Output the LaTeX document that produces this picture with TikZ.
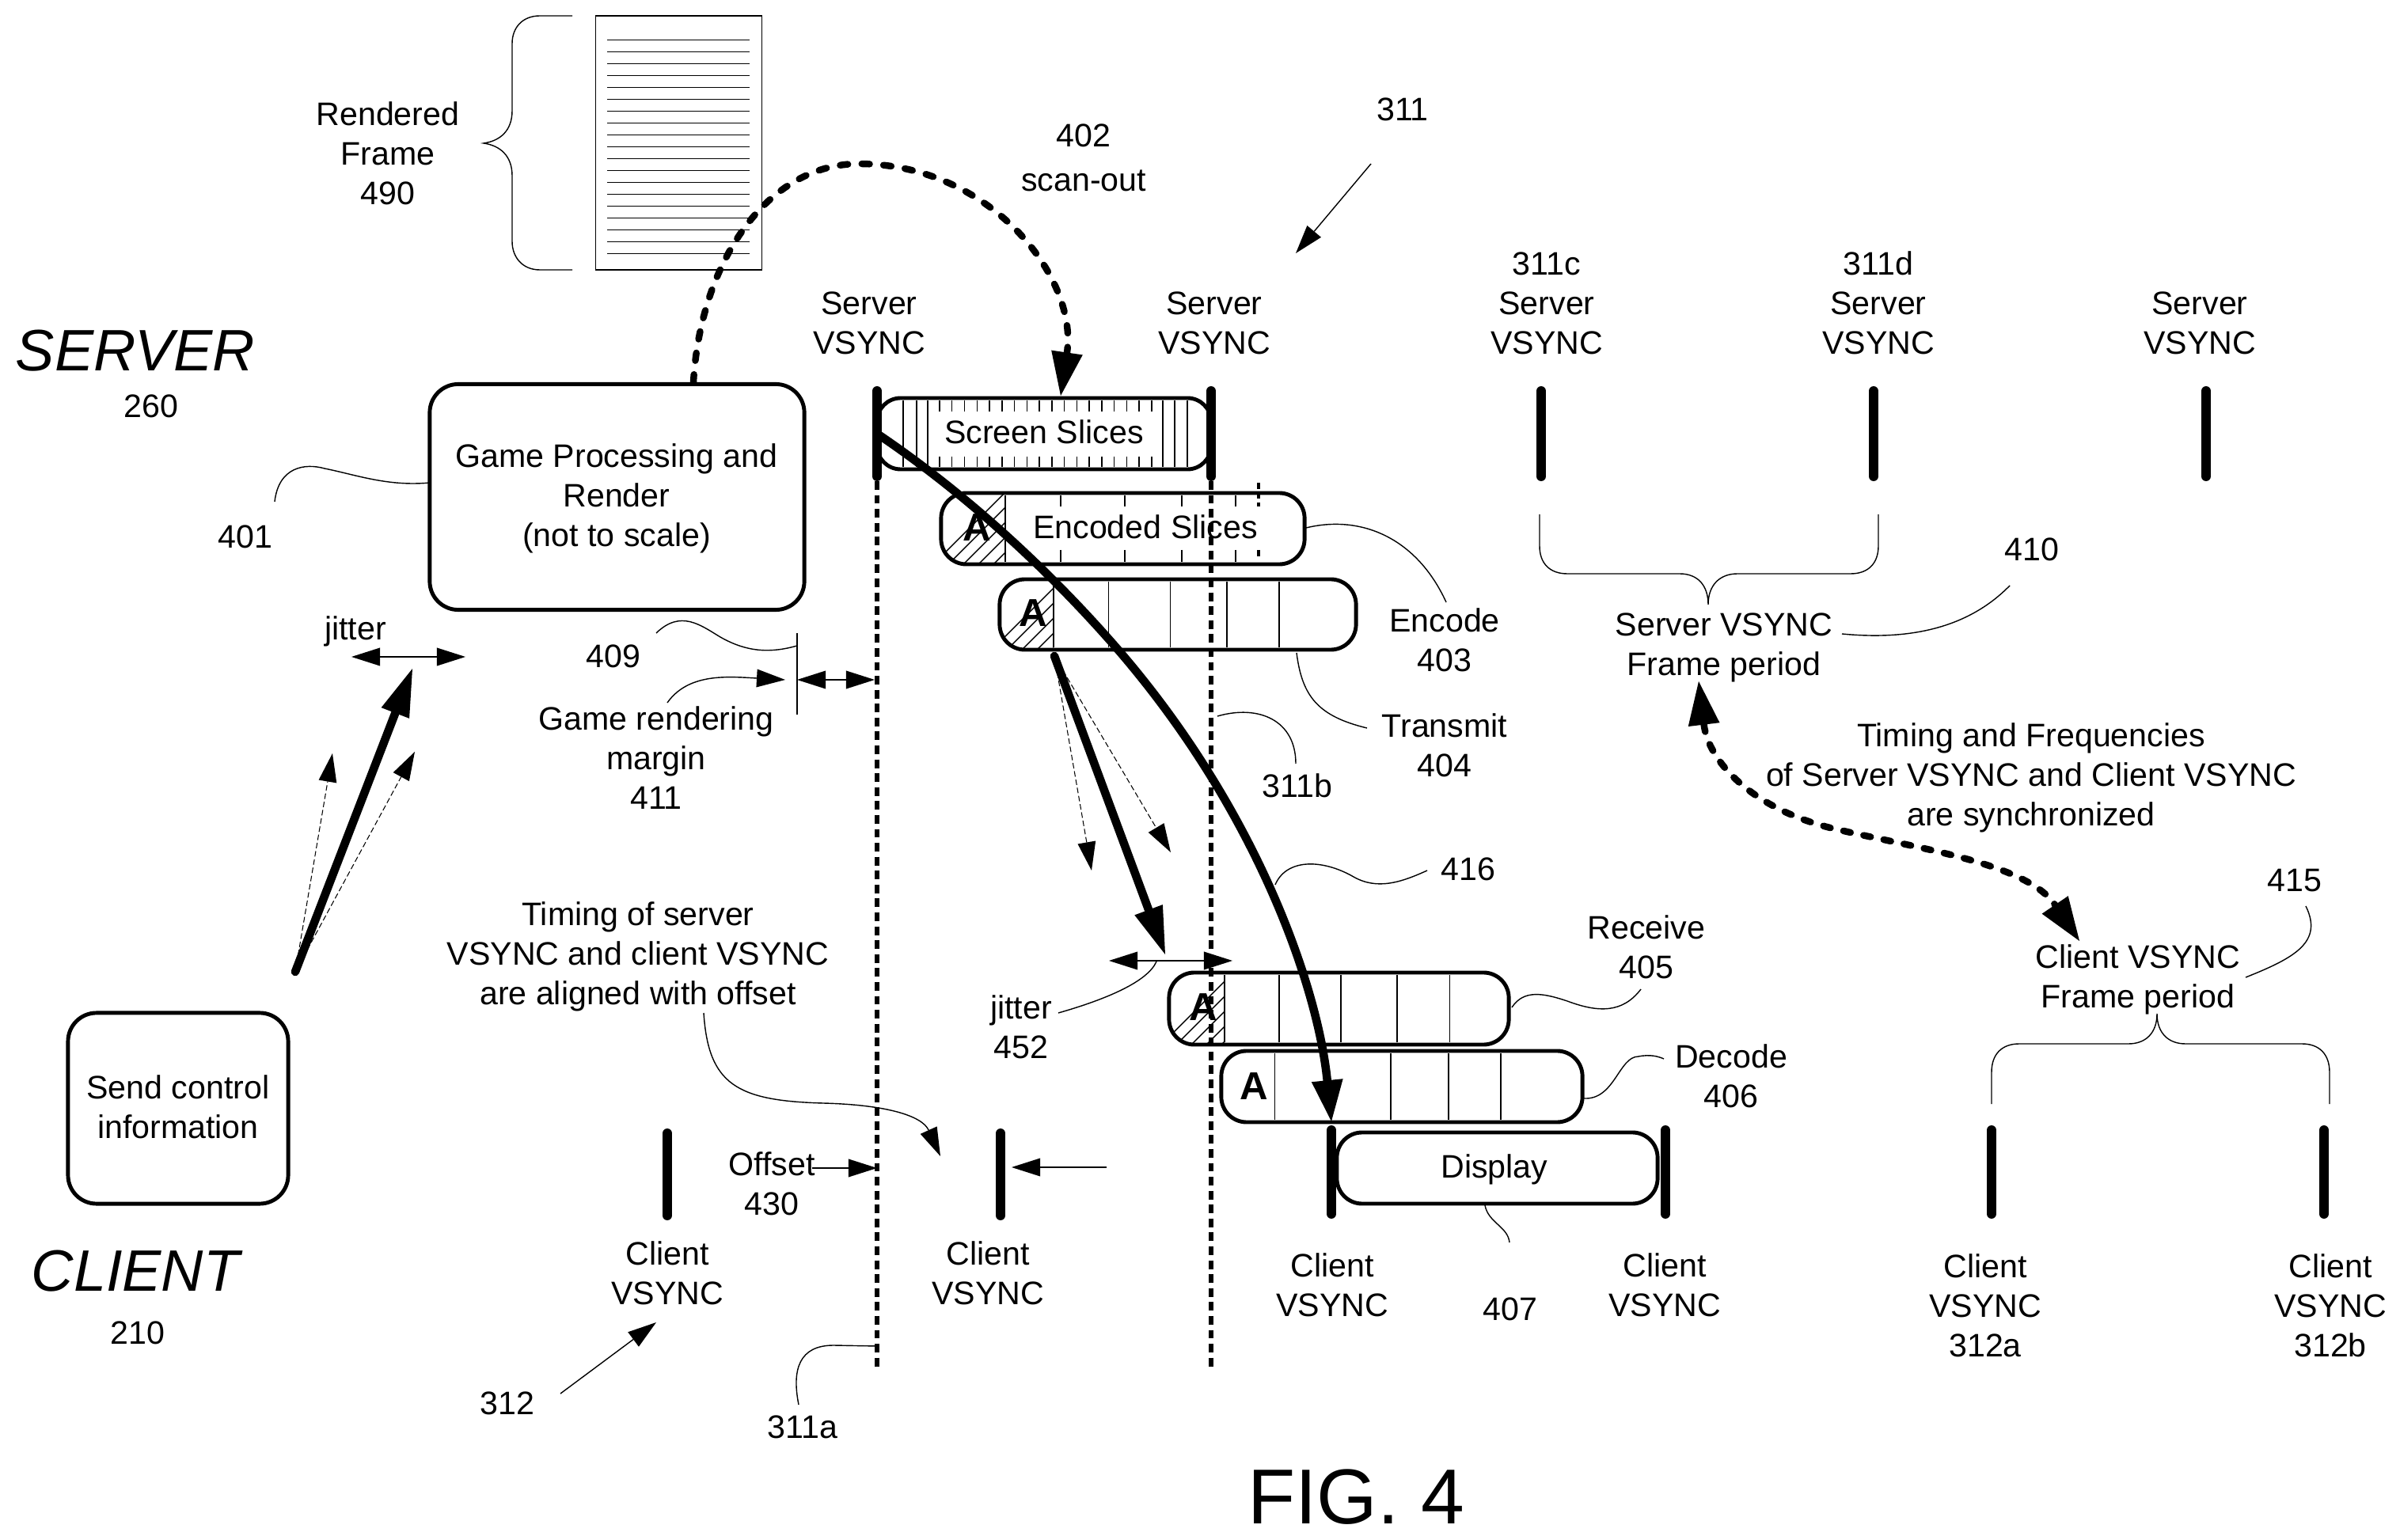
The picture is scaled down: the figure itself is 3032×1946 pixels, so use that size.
\documentclass[tikz,border=0pt]{standalone}
\usepackage{fontspec}
\usepackage{xcolor}
\usepackage{tikz}
\usetikzlibrary{arrows.meta}
\setmainfont{Liberation Sans}

\tikzset{
  lab/.style={font=\fontsize{11.7pt}{14.2pt}\selectfont, align=center, inner sep=0pt},
  bigside/.style={font=\fontsize{21pt}{24pt}\selectfont\itshape, inner sep=0pt},
  sect/.style={font=\fontsize{14pt}{16pt}\selectfont\bfseries, inner sep=0pt},
  procbox/.style={draw, line width=1.4pt, rounded corners=3.6mm, inner sep=0pt, outer sep=0pt, align=center},
  slicebox/.style={draw, line width=1.4pt, rounded corners=3.2mm, inner sep=0pt, outer sep=0pt},
  vbar/.style={line width=3.4pt, line cap=round},
  vline/.style={line width=1.7pt, dash pattern=on 3.1pt off 1.9pt},
  tick/.style={line width=.4pt},
  leader/.style={line width=.4pt},
  thinarrow/.style={line width=.4pt, -{Triangle[length=3.6mm,width=2.3mm,line width=0pt]}},
  jitterarrow/.style={line width=.4pt, {Triangle[length=3.6mm,width=2.3mm,line width=0pt]}-{Triangle[length=3.6mm,width=2.3mm,line width=0pt]}},
  dasharrow/.style={line width=.3pt, dash pattern=on 2pt off 1pt, -{Triangle[length=3.6mm,width=2.3mm,line width=0pt]}},
  heavyarrow/.style={line width=3pt, line cap=round, -{Triangle[length=6mm,width=3.8mm,line width=0pt]}},
  curvearrow/.style={line width=3pt, line cap=round, -{Triangle[length=5.2mm,width=4mm,line width=0pt]}},
  scanarrow/.style={line width=2.4pt, line cap=round, dash pattern=on 2.8pt off 5pt, -{Triangle[length=5.5mm,width=4mm,line width=0pt]}},
  syncarrow/.style={line width=2.4pt, line cap=round, dash pattern=on 2.6pt off 4.8pt, {Triangle[length=5.5mm,width=4mm,line width=0pt]}-{Triangle[length=5.5mm,width=4mm,line width=0pt]}},
}

\begin{document}
\begin{tikzpicture}[x=0.01cm, y=-0.01cm]
  \useasboundingbox (0,0) rectangle (3032,1946);

  % rendered frame
  \node[draw, line width=.4pt, minimum width=2.1cm, minimum height=3.21cm, inner sep=0pt] (frame) at (857.5,180.5) {};
  \foreach \i in {0,...,18}
    \draw[tick] (767,{50.3+15*\i}) -- (947,{50.3+15*\i});
  \draw[leader] (723,20) -- (682,20) .. controls (660,20) and (647,35) .. (647,55) -- (647,140)
    .. controls (647,165) and (632,178) .. (611,181) .. controls (632,184) and (647,197) .. (647,222)
    -- (647,305) .. controls (647,325) and (660,341) .. (682,341) -- (723,341);
  \node[lab] (framelab) at (490,194) {Rendered\\Frame\\490};

  % boxes
  \node[procbox, minimum width=4.73cm, minimum height=2.85cm] (game) at (779.5,628) {};
  \node[lab] (gamelab) at (779,630) {Game Processing and\\Render\\(not to scale)};
  \node[procbox, minimum width=2.78cm, minimum height=2.41cm] (send) at (225,1400.5) {};
  \node[lab] (sendlab) at (225,1399) {Send control\\information};

  \node[slicebox, rounded corners=3mm, minimum width=4.22cm, minimum height=.9cm] (screen) at (1319,548) {};
  \node[slicebox, minimum width=4.59cm, minimum height=.9cm] (encoded) at (1418.5,668) {};
  \node[slicebox, minimum width=4.5cm, minimum height=.89cm] (transmit) at (1488,776.5) {};
  \node[slicebox, minimum width=4.29cm, minimum height=.91cm] (receive) at (1691.5,1274.5) {};
  \node[slicebox, minimum width=4.56cm, minimum height=.9cm] (decode) at (1771,1373) {};
  \node[slicebox, minimum width=4.05cm, minimum height=.9cm] (display) at (1891.5,1476) {};

  % slices
  \foreach \x in {1141,1158,1172,1469,1484,1500}
    \draw[tick] (\x,506) -- (\x,590);
  \foreach \i in {0,...,17} {
    \draw[tick] ({1187+15.76*\i},506) -- ({1187+15.76*\i},520);
    \draw[tick] ({1187+15.76*\i},577) -- ({1187+15.76*\i},590);
  }
  \draw[tick] (1270,626) -- (1270,710);
  \foreach \x in {1340,1421,1493,1561} {
    \draw[tick] (\x,626) -- (\x,640);
    \draw[tick] (\x,695) -- (\x,710);
  }
  \draw[line width=.9pt, dash pattern=on 2.2pt off 1.4pt] (1590,610) -- (1590,640);
  \draw[line width=.9pt, dash pattern=on 2.2pt off 1.4pt] (1590,695) -- (1590,705);
  \foreach \x in {1331,1400.6,1478.6,1550,1616}
    \draw[tick] (\x,735) -- (\x,818);
  \foreach \x in {1547,1616,1694,1765,1831.5}
    \draw[tick] (\x,1232) -- (\x,1317);
  \foreach \x in {1610.5,1757,1830,1896}
    \draw[tick] (\x,1331) -- (\x,1415);

  % hatched first slice
  \foreach \l/\t/\r/\b/\m in {1189/623/1648/713/1270, 1263/732/1713/821/1331, 1477/1229/1906/1320/1547} {
    \begin{scope}
      \clip[rounded corners=3.2mm] (\l,\t) rectangle (\r,\b);
      \clip (\l,\t) rectangle (\m,\b);
      \foreach \h in {0,...,8}
        \draw[tick] ({\l+\h*19-10},\b) -- ++(100,-100);
    \end{scope}
  }

  \node[lab] (screenlab) at (1319,546) {Screen Slices};
  \node[lab] (encodedlab) at (1447,666) {Encoded Slices};
  \node[lab] (displaylab) at (1888,1478) {Display};
  \node[sect] (a1) at (1234,667) {A};
  \node[sect] (a2) at (1305,775) {A};
  \node[sect] (a3) at (1520,1273) {A};
  \node[sect] (a4) at (1584,1373) {A};

  % vsync lines
  \foreach \x in {1108,1530}
    \draw[vline] (\x,608) -- (\x,1733);
  \foreach \x in {1108,1530,1947,2367,2787}
    \draw[vbar] (\x,494) -- (\x,602);
  \foreach \x in {843,1264}
    \draw[vbar] (\x,1432) -- (\x,1536);
  \foreach \x in {1682,2104,2516,2936}
    \draw[vbar] (\x,1428) -- (\x,1534);

  % side titles
  \node[bigside] (server) at (171,443) {SERVER};
  \node[lab] (n260) at (191,513) {260};
  \node[bigside] (client) at (171,1606) {CLIENT};
  \node[lab] (n210) at (174,1684) {210};

  % vsync labels
  \node[lab] (sv1) at (1098,408) {Server\\VSYNC};
  \node[lab] (sv2) at (1534,408) {Server\\VSYNC};
  \node[lab] (sv3) at (1954,383) {311c\\Server\\VSYNC};
  \node[lab] (sv4) at (2373,383) {311d\\Server\\VSYNC};
  \node[lab] (sv5) at (2779,408) {Server\\VSYNC};
  \node[lab] (cv1) at (843,1609) {Client\\VSYNC};
  \node[lab] (cv2) at (1248,1609) {Client\\VSYNC};
  \node[lab] (cv3) at (1683,1624) {Client\\VSYNC};
  \node[lab] (cv4) at (2103,1624) {Client\\VSYNC};
  \node[lab] (cv5) at (2508,1650) {Client\\VSYNC\\312a};
  \node[lab] (cv6) at (2944,1650) {Client\\VSYNC\\312b};

  % other labels
  \node[lab] (scanlab) at (1369,199) {402\\[.6mm]scan-out};
  \node[lab] (n311) at (1772,138) {311};
  \node[lab] (n401) at (310,678) {401};
  \node[lab] (jitter1) at (449,798) {jitter};
  \node[lab] (n409) at (775,829) {409};
  \node[lab] (marginlab) at (829,958) {Game rendering\\margin\\411};
  \node[lab] (encodelab) at (1825,809) {Encode\\403};
  \node[lab] (transmitlab) at (1825,942) {Transmit\\404};
  \node[lab] (n311b) at (1639,993) {311b};
  \node[lab] (n416) at (1855,1098) {416};
  \node[lab] (n410) at (2567,694) {410};
  \node[lab] (periodS) at (2178,818) {Server VSYNC\\Frame period};
  \node[lab] (synclab) at (2566,983) {Timing and Frequencies\\of Server VSYNC and Client VSYNC\\are synchronized};
  \node[lab] (n415) at (2899,1113) {415};
  \node[lab] (periodC) at (2701,1238) {Client VSYNC\\Frame period};
  \node[lab] (receivelab) at (2080,1197) {Receive\\405};
  \node[lab] (decodelab) at (2187,1360) {Decode\\406};
  \node[lab] (jitter2) at (1290,1298) {jitter\\452};
  \node[lab] (offsetlab) at (806,1209) {Timing of server\\VSYNC and client VSYNC\\are aligned with offset};
  \node[lab] (offset) at (975,1496) {Offset\\430};
  \node[lab] (n407) at (1908,1654) {407};
  \node[lab] (n312) at (641,1773) {312};
  \node[lab] (n311a) at (1014,1803) {311a};
  \node[font=\fontsize{28pt}{30pt}\selectfont, inner sep=0pt] (fig) at (1713,1892) {FIG. 4};

  % free ends
  \coordinate (scanfrom) at (876,483);
  \coordinate (scanto) at (1340,500);
  \coordinate (bigfrom) at (1108,548);
  \coordinate (bigto) at (1682,1417);
  \coordinate (txout) at (1332,829);
  \coordinate (txtip) at (1472,1206);
  \coordinate (ctrlout) at (373,1228);
  \coordinate (ctrltip) at (521,845);

  % scan-out and sync arcs
  \draw[scanarrow] (scanfrom) .. controls (885,330) and (970,207) .. (1085,207)
    .. controls (1250,207) and (1362,350) .. (scanto);
  \draw[syncarrow] (2146,861) .. controls (2158,960) and (2210,1020) .. (2312,1046)
    .. controls (2420,1072) and (2560,1090) .. (2627,1189);

  % thick arrows
  \draw[curvearrow] (bigfrom) .. controls (1215,620) and (1320,715) .. (1409,817)
    .. controls (1590,1025) and (1665,1250) .. (bigto);
  \draw[heavyarrow] (txout) -- (txtip);
  \draw[dasharrow] (txout) -- (1379,1100);
  \draw[dasharrow] (txout) -- (1479,1077);
  \draw[heavyarrow] (ctrlout) -- (ctrltip);
  \draw[dasharrow] (ctrlout) -- (420,952);
  \draw[dasharrow] (ctrlout) -- (524,950);

  % small arrows
  \draw[jitterarrow] (444,830) -- (588,830);
  \draw[jitterarrow] (1401,1214) -- (1557,1214);
  \draw[jitterarrow] (1007,859) -- (1105,859);
  \draw[tick] (1007,800) -- (1007,903);
  \draw[thinarrow] (1732,207) -- (1637,320);
  \draw[thinarrow] (708,1761) -- (829,1671);
  \draw[thinarrow] (1026,1476) -- (1108,1476);
  \draw[thinarrow] (1398,1475) -- (1278,1475);
  \draw[thinarrow] (843,888) .. controls (870,850) and (920,855) .. (992,859);
  \draw[thinarrow] (889,1280) .. controls (895,1370) and (930,1391) .. (1040,1394)
    .. controls (1120,1396) and (1165,1410) .. (1188,1461);

  % leaders
  \draw[leader] (347,634) .. controls (352,590) and (385,585) .. (410,592)
    .. controls (450,600) and (490,615) .. (543,610);
  \draw[leader] (829,800) .. controls (860,770) and (885,790) .. (910,805)
    .. controls (945,825) and (975,825) .. (1007,816);
  \draw[leader] (1650,667) .. controls (1720,650) and (1790,680) .. (1827,761);
  \draw[leader] (1638,825) .. controls (1645,880) and (1665,905) .. (1727,920);
  \draw[leader] (1538,905) .. controls (1590,890) and (1637,910) .. (1637,965);
  \draw[leader] (1611,1118) .. controls (1625,1085) and (1670,1085) .. (1710,1108)
    .. controls (1740,1125) and (1770,1115) .. (1803,1100);
  \draw[leader] (1337,1280) .. controls (1400,1262) and (1450,1240) .. (1461,1215);
  \draw[leader] (1910,1273) .. controls (1925,1250) and (1950,1255) .. (1980,1265)
    .. controls (2020,1280) and (2050,1280) .. (2073,1250);
  \draw[leader] (2001,1388) .. controls (2040,1390) and (2045,1335) .. (2070,1335)
    .. controls (2085,1332) and (2095,1335) .. (2102,1338);
  \draw[leader] (1876,1523) .. controls (1880,1545) and (1905,1550) .. (1907,1570);
  \draw[leader] (2327,801) .. controls (2420,810) and (2490,790) .. (2539,740);
  \draw[leader] (2913,1145) .. controls (2935,1190) and (2900,1210) .. (2837,1235);
  \draw[leader] (1009,1775) .. controls (1000,1730) and (1010,1700) .. (1053,1700) -- (1108,1701);

  % braces
  \draw[leader] (1945,650) -- (1945,690) .. controls (1945,712) and (1958,725) .. (1980,725) -- (2122,725)
    .. controls (2145,725) and (2158,740) .. (2158,764) .. controls (2158,740) and (2172,725) .. (2195,725)
    -- (2338,725) .. controls (2360,725) and (2373,712) .. (2373,690) -- (2373,650);
  \draw[leader] (2516,1395) -- (2516,1355) .. controls (2516,1332) and (2529,1319) .. (2551,1319) -- (2689,1319)
    .. controls (2711,1319) and (2725,1305) .. (2725,1281) .. controls (2725,1305) and (2739,1319) .. (2761,1319)
    -- (2908,1319) .. controls (2930,1319) and (2943,1332) .. (2943,1355) -- (2943,1395);
\end{tikzpicture}
\end{document}
